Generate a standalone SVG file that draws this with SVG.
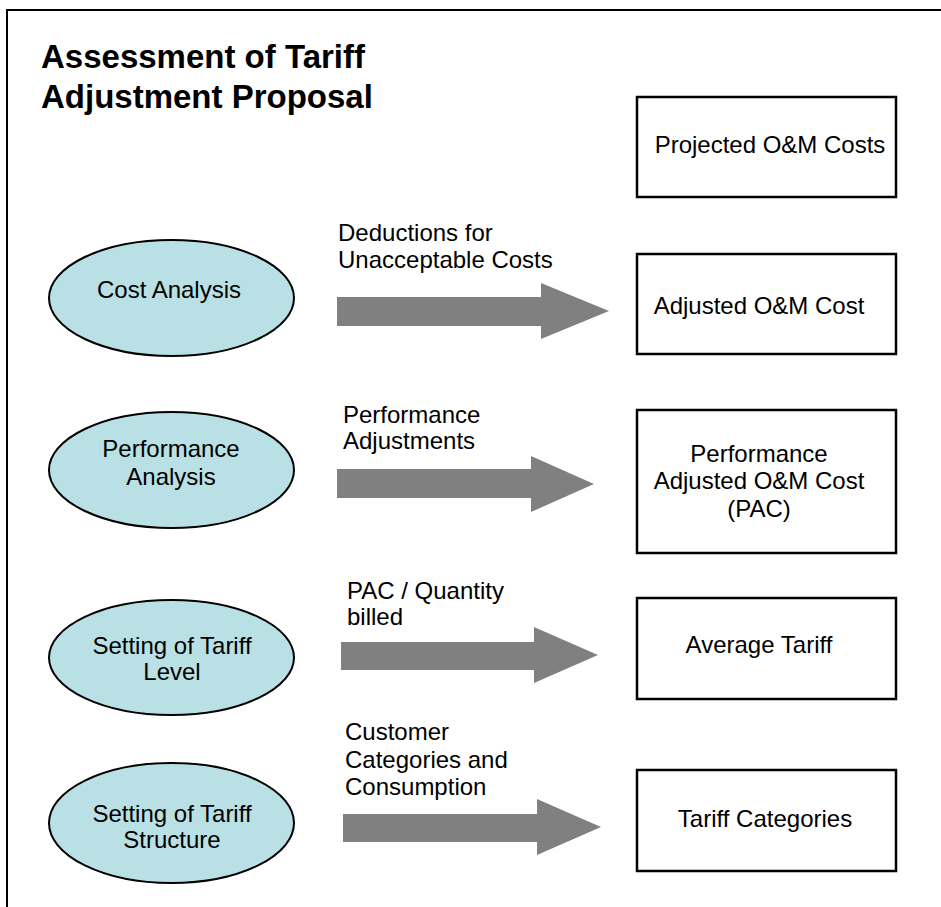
<svg xmlns="http://www.w3.org/2000/svg" width="941" height="907" viewBox="0 0 941 907">
  <style>
    text { font-family: "Liberation Sans", Arial, sans-serif; font-size: 24px; fill: #000; }
    .title { font-size: 33px; font-weight: bold; }
    .mid { text-anchor: middle; }
    .stage { fill: #B9E0E4; stroke: #000; stroke-width: 2; }
    .result { fill: #fff; stroke: #000; stroke-width: 2.5; }
    .flow { fill: #808080; stroke: none; }
  </style>

  <!-- page frame -->
  <path d="M7,907 V10 H941" fill="none" stroke="#000" stroke-width="2"/>

  <g id="title">
    <text class="title" x="41" y="68">Assessment of Tariff</text>
    <text class="title" x="41" y="108">Adjustment Proposal</text>
  </g>

  <!-- analysis stages -->
  <g id="cost-analysis">
    <ellipse class="stage" cx="171.5" cy="298" rx="122.5" ry="58"/>
    <text class="mid" x="169" y="298">Cost Analysis</text>
  </g>
  <g id="performance-analysis">
    <ellipse class="stage" cx="171.5" cy="470" rx="122.5" ry="58"/>
    <text class="mid" x="171" y="457">Performance</text>
    <text class="mid" x="171" y="485">Analysis</text>
  </g>
  <g id="tariff-level">
    <ellipse class="stage" cx="171.5" cy="657.5" rx="122.5" ry="57.5"/>
    <text class="mid" x="172" y="654">Setting of Tariff</text>
    <text class="mid" x="172" y="680">Level</text>
  </g>
  <g id="tariff-structure">
    <ellipse class="stage" cx="171.5" cy="823" rx="122.5" ry="60"/>
    <text class="mid" x="172" y="822">Setting of Tariff</text>
    <text class="mid" x="172" y="848">Structure</text>
  </g>

  <!-- results -->
  <g id="projected-om">
    <rect class="result" x="637" y="97" width="259" height="100"/>
    <text class="mid" x="770" y="153">Projected O&amp;M Costs</text>
  </g>
  <g id="adjusted-om">
    <rect class="result" x="637" y="254" width="259" height="100"/>
    <text class="mid" x="759" y="314">Adjusted O&amp;M Cost</text>
  </g>
  <g id="pac">
    <rect class="result" x="637" y="410" width="259" height="143"/>
    <text class="mid" x="759" y="462">Performance</text>
    <text class="mid" x="759" y="489">Adjusted O&amp;M Cost</text>
    <text class="mid" x="759" y="517">(PAC)</text>
  </g>
  <g id="average-tariff">
    <rect class="result" x="637" y="598" width="259" height="101"/>
    <text class="mid" x="759" y="653">Average Tariff</text>
  </g>
  <g id="tariff-categories">
    <rect class="result" x="637" y="770" width="259" height="101"/>
    <text class="mid" x="765" y="827">Tariff Categories</text>
  </g>

  <!-- connectors: block arrows with their labels -->
  <g id="connectors">
    <g id="deductions">
      <polygon class="flow" points="337,297 541,297 541,283 609,311 541,339 541,326 337,326"/>
      <text x="338" y="241">Deductions for</text>
      <text x="338" y="268">Unacceptable Costs</text>
    </g>
    <g id="performance-adjustments">
      <polygon class="flow" points="337,469 531,469 531,456 594,484 531,512 531,498 337,498"/>
      <text x="343" y="423">Performance</text>
      <text x="343" y="449">Adjustments</text>
    </g>
    <g id="pac-quantity">
      <polygon class="flow" points="341,642 534,642 534,627 598,655 534,683 534,670 341,670"/>
      <text x="347" y="599">PAC / Quantity</text>
      <text x="347" y="625">billed</text>
    </g>
    <g id="customer-categories">
      <polygon class="flow" points="343,814 537,814 537,799 601,827 537,855 537,842 343,842"/>
      <text x="345" y="740">Customer</text>
      <text x="345" y="768">Categories and</text>
      <text x="345" y="795">Consumption</text>
    </g>
  </g>
</svg>
